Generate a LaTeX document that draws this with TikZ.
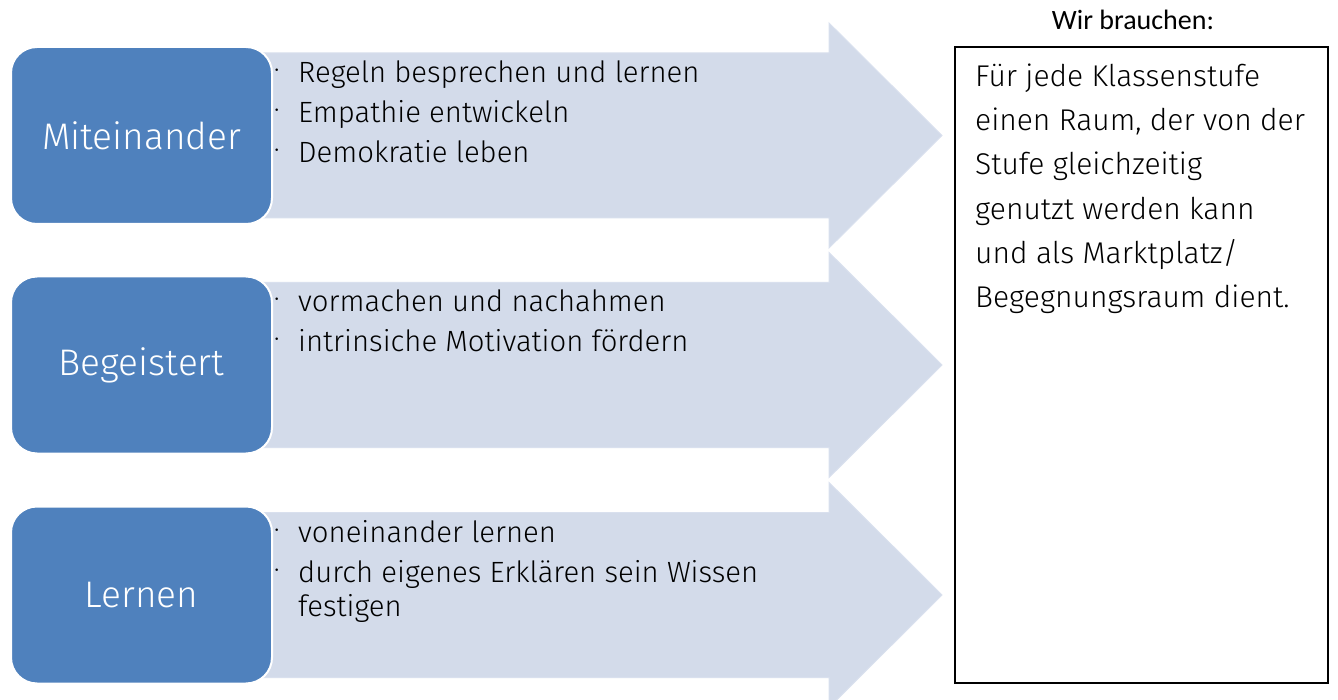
\documentclass[tikz,border=0pt]{standalone}
\usepackage{fontspec}
\setmainfont{Carlito}
\newfontfamily\hand{Fira Sans Light}
\definecolor{boxblue}{HTML}{4F81BD}
\definecolor{arrowfill}{HTML}{D3DBEA}
\definecolor{arrowedge}{HTML}{D9E0EE}
\tikzset{
  catbox/.style={fill=boxblue, draw=white, line width=2pt, rounded corners=26pt,
    minimum width=261pt, minimum height=177pt, inner sep=0pt,
    text=white, font=\hand\fontsize{37}{40}\selectfont},
  itemtext/.style={anchor=base west, inner sep=0pt, font=\hand\fontsize{29.3}{32}\selectfont},
  bul/.style={anchor=base west, inner sep=0pt, font=\hand\fontsize{26}{30}\selectfont},
  boxtext/.style={anchor=base west, inner sep=0pt, font=\hand\fontsize{30}{32}\selectfont},
  needbox/.style={draw=black, line width=1.2pt, fill=white, minimum width=373pt,
    minimum height=636pt, inner sep=0pt},
  arrowshape/.style={fill=arrowfill, draw=arrowedge, line width=1pt}
}
\begin{document}
\begin{tikzpicture}[x=1pt,y=-1pt]
\useasboundingbox (0,0) rectangle (1338,700);
\clip (0,0) rectangle (1338,700);
\fill[white] (0,0) rectangle (1338,700);
% arrows
\foreach \c in {135.5,365,595}{
  \draw[arrowshape] (262,\c-82.5) -- (829,\c-82.5) -- (829,\c-112.5) -- (942,\c) --
     (829,\c+112.5) -- (829,\c+82.5) -- (262,\c+82.5) -- cycle;
}
% category boxes
\node[catbox] (mit) at (141.5,135.5) {Miteinander};
\node[catbox] (beg) at (141.5,365) {Begeistert};
\node[catbox] (ler) at (141.5,595) {Lernen};
% bullets arrow 1
\node[bul] (b11) at (274,79) {·};
\node[itemtext] (t11) at (298,83) {Regeln besprechen und lernen};
\node[bul] (b12) at (274,119) {·};
\node[itemtext] (t12) at (298,123) {Empathie entwickeln};
\node[bul] (b13) at (274,159) {·};
\node[itemtext] (t13) at (298,163) {Demokratie leben};
% arrow 2
\node[bul] (b21) at (274,308) {·};
\node[itemtext] (t21) at (298,312) {vormachen und nachahmen};
\node[bul] (b22) at (274,348) {·};
\node[itemtext] (t22) at (298,352) {intrinsiche Motivation fördern};
% arrow 3
\node[bul] (b31) at (274,538) {·};
\node[itemtext] (t31) at (298,542) {voneinander lernen};
\node[bul] (b32) at (274,578) {·};
\node[itemtext] (t32) at (298,582) {durch eigenes Erklären sein Wissen};
\node[itemtext] (t33) at (298,616) {festigen};
% right box
\node[font=\fontsize{28}{30}\selectfont, inner sep=0pt] (head) at (1133,20) {Wir brauchen:};
\node[needbox] (need) at (1141.5,365) {};
\node[boxtext] (r1) at (975,87) {Für jede Klassenstufe};
\node[boxtext] (r2) at (975,131) {einen Raum, der von der};
\node[boxtext] (r3) at (975,175) {Stufe gleichzeitig};
\node[boxtext] (r4) at (975,220) {genutzt werden kann};
\node[boxtext] (r5) at (975,264) {und als Marktplatz/};
\node[boxtext] (r6) at (975,308) {Begegnungsraum dient.};
\end{tikzpicture}
\end{document}
